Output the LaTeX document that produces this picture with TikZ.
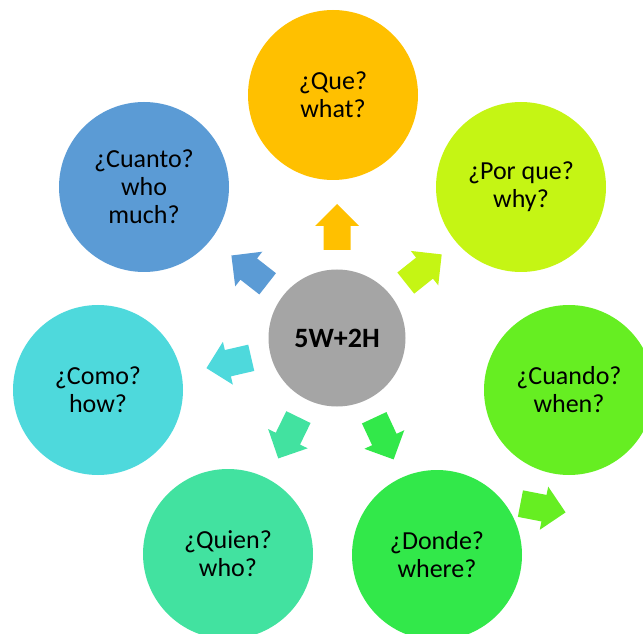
\documentclass[tikz,border=0pt]{standalone}
\usepackage{fontspec}
\setmainfont{Carlito}
\usetikzlibrary{calc}

% palette of the seven question bubbles and the hub
\definecolor{queC}{HTML}{FFC000}
\definecolor{porqueC}{HTML}{C5F514}
\definecolor{cuandoC}{HTML}{66EE22}
\definecolor{dondeC}{HTML}{32E84A}
\definecolor{quienC}{HTML}{42E2A0}
\definecolor{comoC}{HTML}{4ED9DC}
\definecolor{cuantoC}{HTML}{5B9BD5}
\definecolor{hubC}{HTML}{A5A5A5}

\begin{document}
\begin{tikzpicture}[x=1pt,y=1pt,
  bubble/.style={circle, minimum size=170pt, inner sep=0pt, align=center,
                 font=\fontsize{26}{28}\selectfont, text=black},
  hubstyle/.style={circle, minimum size=137pt, inner sep=0pt, fill=hubC,
                   font=\bfseries\fontsize{28}{30}\selectfont, text=black},
  pics/blockarrow/.style={code={
    \fill[#1] (-23,-13.5) -- (1,-13.5) -- (1,-22) -- (23,0)
              -- (1,22) -- (1,13.5) -- (-23,13.5) -- cycle;}}
]
\useasboundingbox (0,0) rectangle (643,633);
\clip (0,0) rectangle (643,633);

% central hub
\node[hubstyle] (hub) at (337,295) {5W+2H};

% question bubbles
\node[bubble, fill=queC]    (que)    at (333,538) {¿Que?\\what?};
\node[bubble, fill=porqueC] (porque) at (521,446) {¿Por que?\\why?};
\node[bubble, fill=cuandoC] (cuando) at (569,243) {¿Cuando?\\when?};
\node[bubble, fill=dondeC]  (donde)  at (437,78)  {¿Donde?\\where?};
\node[bubble, fill=quienC]  (quien)  at (228,79)  {¿Quien?\\who?};
\node[bubble, fill=comoC]   (como)   at (98,243)  {¿Como?\\how?};
\node[bubble, fill=cuantoC] (cuanto) at (144,446) {¿Cuanto?\\who\\much?};

% block arrows pointing out of the hub
\pic[rotate=90]     at ($(hub)+(90:111)$)     {blockarrow=queC};
\pic[rotate=38.6]   at ($(hub)+(38.6:111)$)   {blockarrow=porqueC};
\pic[rotate=-11]    at (543,125)              {blockarrow=cuandoC};
\pic[rotate=-65]    at ($(hub)+(-65:111)$)    {blockarrow=dondeC};
\pic[rotate=-116]   at ($(hub)+(-116:111)$)   {blockarrow=quienC};
\pic[rotate=-167]   at ($(hub)+(-167:111)$)   {blockarrow=comoC};
\pic[rotate=142]    at ($(hub)+(142:111)$)    {blockarrow=cuantoC};
\end{tikzpicture}
\end{document}
